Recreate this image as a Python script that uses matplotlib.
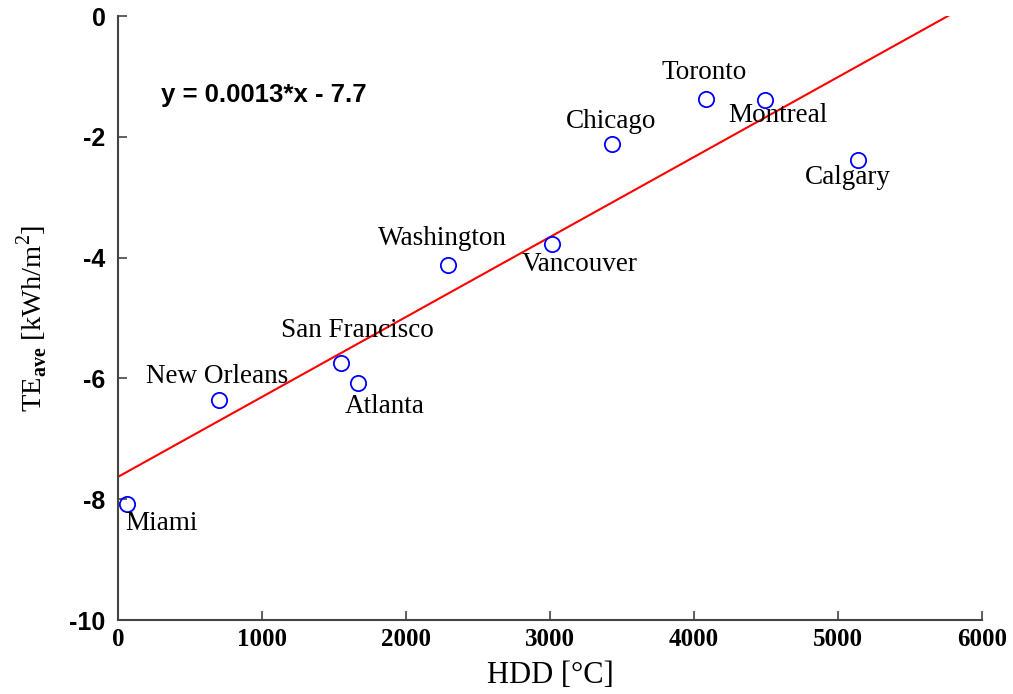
import matplotlib.pyplot as plt
import numpy as np

# data
cities = ["Miami", "New Orleans", "San Francisco", "Atlanta", "Washington",
          "Vancouver", "Chicago", "Toronto", "Montreal", "Calgary"]
hdd = [62, 701, 1549, 1667, 2292, 3014, 3431, 4083, 4493, 5139]
te_ave = [-8.08, -6.36, -5.74, -6.08, -4.12, -3.77, -2.12, -1.37, -1.39, -2.38]

fit_slope = 0.001324
fit_intercept = -7.63
x_ticks = [0, 1000, 2000, 3000, 4000, 5000, 6000]
y_ticks = [0, -2, -4, -6, -8, -10]

# label placement (offset of text centre from point, in points)
label_offsets = [(25, -14), (-1, 17), (12, 23), (19, -17), (-4, 19),
                 (20, -15), (-1, 16), (-1, 19), (9, -11), (-7, -13)]

plt.rcParams['mathtext.fontset'] = 'custom'
plt.rcParams['mathtext.rm'] = 'Liberation Serif'
plt.rcParams['mathtext.bf'] = 'Liberation Serif:bold'

fig = plt.figure(figsize=(10.13, 6.94), dpi=100)
ax = fig.add_axes([0.1165, 0.1066, 0.8529, 0.8703])

xs = np.array([0, 6000])
ax.plot(xs, fit_slope * xs + fit_intercept, color='red', lw=1.5, zorder=2)
ax.plot(hdd, te_ave, 'o', mfc='none', mec='blue', ms=11, mew=1.3, zorder=3,
        clip_on=False)

for name, x, y, off in zip(cities, hdd, te_ave, label_offsets):
    ax.annotate(name, (x, y), xytext=off, textcoords='offset points',
                ha='center', va='center', fontsize=19.5,
                family='Liberation Serif')

ax.text(299, -1.31, "y = 0.0013*x - 7.7", fontsize=18.5, fontweight='bold',
        family='Liberation Sans', va='center', ha='left')

ax.set_xlim(0, 6000)
ax.set_ylim(-10, 0)
ax.set_xticks(x_ticks)
ax.set_yticks(y_ticks)
ax.set_xticklabels([str(t) for t in x_ticks], family='Liberation Serif',
                   fontweight='bold', fontsize=18)
ax.set_yticklabels([str(t) for t in y_ticks], family='Liberation Sans',
                   fontweight='bold', fontsize=18)

for side in ['top', 'right']:
    ax.spines[side].set_visible(False)
for side in ['left', 'bottom']:
    ax.spines[side].set_color('#444444')
    ax.spines[side].set_linewidth(1.5)
ax.tick_params(axis='both', direction='in', length=6.5, width=1.2,
               color='#444444')
ax.tick_params(axis='x', pad=6)
ax.tick_params(axis='y', pad=9)

ax.set_xlabel("HDD [°C]", family='Liberation Serif', fontsize=22, labelpad=7)
ax.set_ylabel(r"TE$_{\mathbf{ave}}$ [kWh/m$^2$]", family='Liberation Serif',
              fontsize=20.5, labelpad=14)

fig.savefig("out.png", dpi=100)
